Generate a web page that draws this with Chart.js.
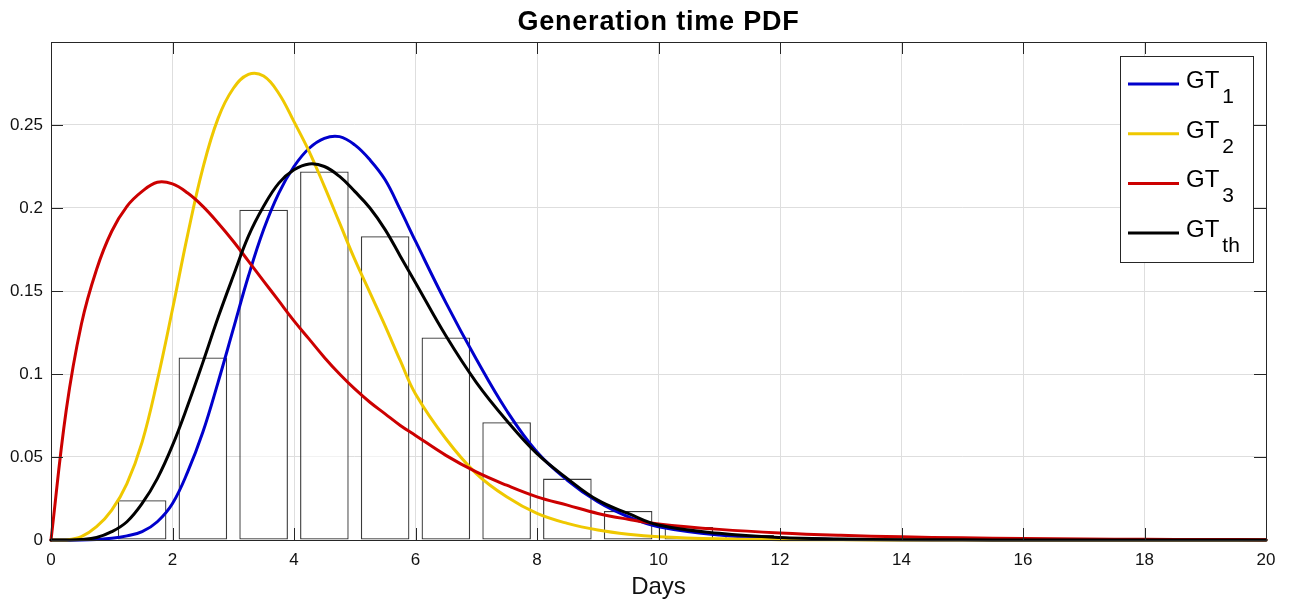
<!DOCTYPE html>
<html>
<head>
<meta charset="utf-8">
<title>Generation time PDF</title>
<script src="https://cdn.jsdelivr.net/npm/chart.js@4.4.1/dist/chart.umd.min.js"></script>
<style>
  html, body { margin: 0; padding: 0; background: #fff; }
  #wrap { width: 1290px; height: 602px; }
</style>
</head>
<body>
<div id="wrap"><canvas id="gt" width="1290" height="602"></canvas></div>
<script>
// ===== data =====

// days at which the four densities were sampled
const days = [0, 0.25, 0.5, 0.75, 1, 1.25, 1.5, 1.75, 2, 2.25, 2.5, 2.75, 3, 3.25, 3.5, 3.75,
  4, 4.25, 4.5, 4.75, 5, 5.25, 5.5, 5.75, 6, 6.5, 7, 7.5, 8, 8.5, 9, 9.5, 10, 11, 12, 13, 14, 15, 16, 17, 18, 19, 20];

const gt1 = [0, 0, 0, 0.0003, 0.001, 0.0025, 0.005, 0.011, 0.022, 0.041, 0.065, 0.095, 0.127, 0.159, 0.187, 0.209,
  0.225, 0.236, 0.242, 0.243, 0.238, 0.229, 0.217, 0.199, 0.180, 0.143, 0.109, 0.078, 0.053, 0.036, 0.023, 0.014, 0.008, 0.003, 0.001, 0.0003, 0.0001, 0, 0, 0, 0, 0, 0];

const gt2 = [0, 0, 0.002, 0.008, 0.018, 0.034, 0.059, 0.096, 0.139, 0.184, 0.224, 0.254, 0.272, 0.2805, 0.2795, 0.269,
  0.252, 0.234, 0.213, 0.191, 0.169, 0.149, 0.129, 0.108, 0.088, 0.061, 0.040, 0.026, 0.016, 0.010, 0.006, 0.0035, 0.002, 0.0007, 0.0002, 0.0001, 0, 0, 0, 0, 0, 0, 0];

const gt3 = [0, 0.078, 0.130, 0.163, 0.186, 0.201, 0.210, 0.2155, 0.2145, 0.209, 0.201, 0.191, 0.180, 0.168, 0.156, 0.144,
  0.132, 0.121, 0.110, 0.100, 0.091, 0.083, 0.076, 0.069, 0.063, 0.051, 0.041, 0.033, 0.026, 0.021, 0.016, 0.0125, 0.0097, 0.0064, 0.0042, 0.0028, 0.0019, 0.0013, 0.0009, 0.0006, 0.0004, 0.0003, 0.0002];

const gtth = [0, 0, 0.0003, 0.0015, 0.005, 0.011, 0.022, 0.037, 0.057, 0.081, 0.107, 0.134, 0.159, 0.183, 0.201, 0.215,
  0.223, 0.2265, 0.225, 0.219, 0.210, 0.200, 0.187, 0.171, 0.155, 0.123, 0.095, 0.072, 0.052, 0.037, 0.024, 0.016, 0.009, 0.004, 0.0015, 0.0006, 0.0002, 0.0001, 0, 0, 0, 0, 0];

// histogram of observed generation times (bins 1.1-1.9, 2.1-2.9, ...)
const binCentres = [1.5, 2.5, 3.5, 4.5, 5.5, 6.5, 7.5, 8.5, 9.5, 10.5, 11.5];
const binHeights = [0.024, 0.110, 0.199, 0.222, 0.183, 0.122, 0.071, 0.037, 0.0175, 0.0078, 0.003];

const xTicks = [0, 2, 4, 6, 8, 10, 12, 14, 16, 18, 20];
const yTicks = [0, 0.05, 0.1, 0.15, 0.2, 0.25];

const FONT = "'Liberation Sans', Arial, Helvetica, sans-serif";
const AXIS = "#262626";
const GRID = "#dedede";

Chart.defaults.font.family = FONT;

function curve(vals) {
  return days.map((d, i) => ({ x: d, y: vals[i] }));
}

function lineSet(label, vals, color, order) {
  return {
    type: "line",
    label: label,
    data: curve(vals),
    borderColor: color,
    backgroundColor: color,
    borderWidth: 3,
    pointRadius: 0,
    tension: 0.4,
    borderCapStyle: "round",
    borderJoinStyle: "round",
    fill: false,
    clip: false,
    order: order,
  };
}

// box, inward ticks on all four sides, title over the axes
const frameAndTicks = {
  id: "frameAndTicks",
  afterDatasetsDraw(chart) {
    const { ctx, chartArea: a, scales } = chart;
    const len = 12;
    ctx.save();
    ctx.strokeStyle = AXIS;
    ctx.lineWidth = 1;
    ctx.beginPath();
    xTicks.forEach((v) => {
      const px = Math.round(scales.x.getPixelForValue(v)) + 0.5;
      ctx.moveTo(px, a.bottom);
      ctx.lineTo(px, a.bottom - len);
      ctx.moveTo(px, a.top);
      ctx.lineTo(px, a.top + len);
    });
    yTicks.forEach((v) => {
      const py = Math.round(scales.y.getPixelForValue(v)) + 0.5;
      ctx.moveTo(a.left, py);
      ctx.lineTo(a.left + len, py);
      ctx.moveTo(a.right, py);
      ctx.lineTo(a.right - len, py);
    });
    ctx.stroke();
    ctx.strokeRect(Math.round(a.left) + 0.5, Math.round(a.top) + 0.5,
      Math.round(a.right - a.left), Math.round(a.bottom - a.top));

    ctx.fillStyle = "#000";
    ctx.font = "bold 27px " + FONT;
    ctx.letterSpacing = "0.8px";
    ctx.textAlign = "center";
    ctx.textBaseline = "middle";
    ctx.fillText("Generation time PDF", (a.left + a.right) / 2, 23);
    ctx.restore();
  },
};

// legend with subscripts (GT_1 -> GT with subscript 1)
const subLegend = {
  id: "subLegend",
  afterDraw(chart) {
    const { ctx, chartArea: a } = chart;
    const w = 133, h = 206;
    const x0 = Math.round(a.right - 13 - w), y0 = Math.round(a.top + 14);
    ctx.save();
    ctx.fillStyle = "#fff";
    ctx.fillRect(x0, y0, w, h);
    ctx.strokeStyle = AXIS;
    ctx.lineWidth = 1;
    ctx.strokeRect(x0 + 0.5, y0 + 0.5, w, h);

    const lines = chart.data.datasets.filter((ds) => ds.type === "line");
    lines.forEach((ds, i) => {
      const rowY = y0 + 28 + i * 49.7;
      const [main, sub] = ds.label.split("_");
      ctx.strokeStyle = ds.borderColor;
      ctx.lineWidth = 3;
      ctx.beginPath();
      ctx.moveTo(x0 + 8, rowY);
      ctx.lineTo(x0 + 59, rowY);
      ctx.stroke();

      ctx.fillStyle = "#000";
      ctx.textAlign = "left";
      ctx.textBaseline = "alphabetic";
      ctx.font = "24px " + FONT;
      ctx.fillText(main, x0 + 66, rowY + 4);
      const mw = ctx.measureText(main).width;
      ctx.font = "21px " + FONT;
      ctx.fillText(sub, x0 + 66 + mw + 3, rowY + 19);
    });
    ctx.restore();
  },
};

new Chart(document.getElementById("gt"), {
  type: "line",
  data: {
    datasets: [
      {
        type: "bar",
        label: "histogram",
        data: binCentres.map((x, i) => ({ x: x, y: binHeights[i] })),
        backgroundColor: "rgba(255,255,255,0.6)",
        borderColor: "#3a3a3a",
        borderWidth: 1.3,
        borderSkipped: false,
        barPercentage: 0.8,
        categoryPercentage: 1.0,
        order: 10,
      },
      lineSet("GT_1", gt1, "#0000cc", 4),
      lineSet("GT_2", gt2, "#efc800", 3),
      lineSet("GT_3", gt3, "#cc0000", 2),
      lineSet("GT_th", gtth, "#000000", 1),
    ],
  },
  options: {
    responsive: false,
    animation: false,
    events: [],
    layout: { padding: { left: 0, right: 24, top: 42, bottom: 0 } },
    plugins: {
      legend: { display: false },
      tooltip: { enabled: false },
      title: { display: false },
    },
    scales: {
      x: {
        type: "linear",
        min: 0,
        max: 20,
        offset: false,
        afterBuildTicks: (s) => { s.ticks = xTicks.map((v) => ({ value: v })); },
        afterFit: (s) => { s.height = 62; },
        grid: { color: GRID, drawTicks: false, offset: false },
        border: { display: false },
        ticks: {
          autoSkip: false,
          maxRotation: 0,
          padding: 10,
          color: "#111",
          font: { size: 17 },
          callback: (v) => String(v),
        },
        title: {
          display: true,
          text: "Days",
          color: "#111",
          font: { size: 24 },
          padding: { top: 0, bottom: 0 },
        },
      },
      y: {
        type: "linear",
        min: 0,
        max: 0.3,
        afterBuildTicks: (s) => { s.ticks = yTicks.map((v) => ({ value: v })); },
        afterFit: (s) => { s.width = 51; },
        grid: { color: GRID, drawTicks: false },
        border: { display: false },
        ticks: {
          padding: 8,
          color: "#111",
          font: { size: 17 },
          callback: (v) => String(v),
        },
      },
    },
  },
  plugins: [frameAndTicks, subLegend],
});
</script>
</body>
</html>
